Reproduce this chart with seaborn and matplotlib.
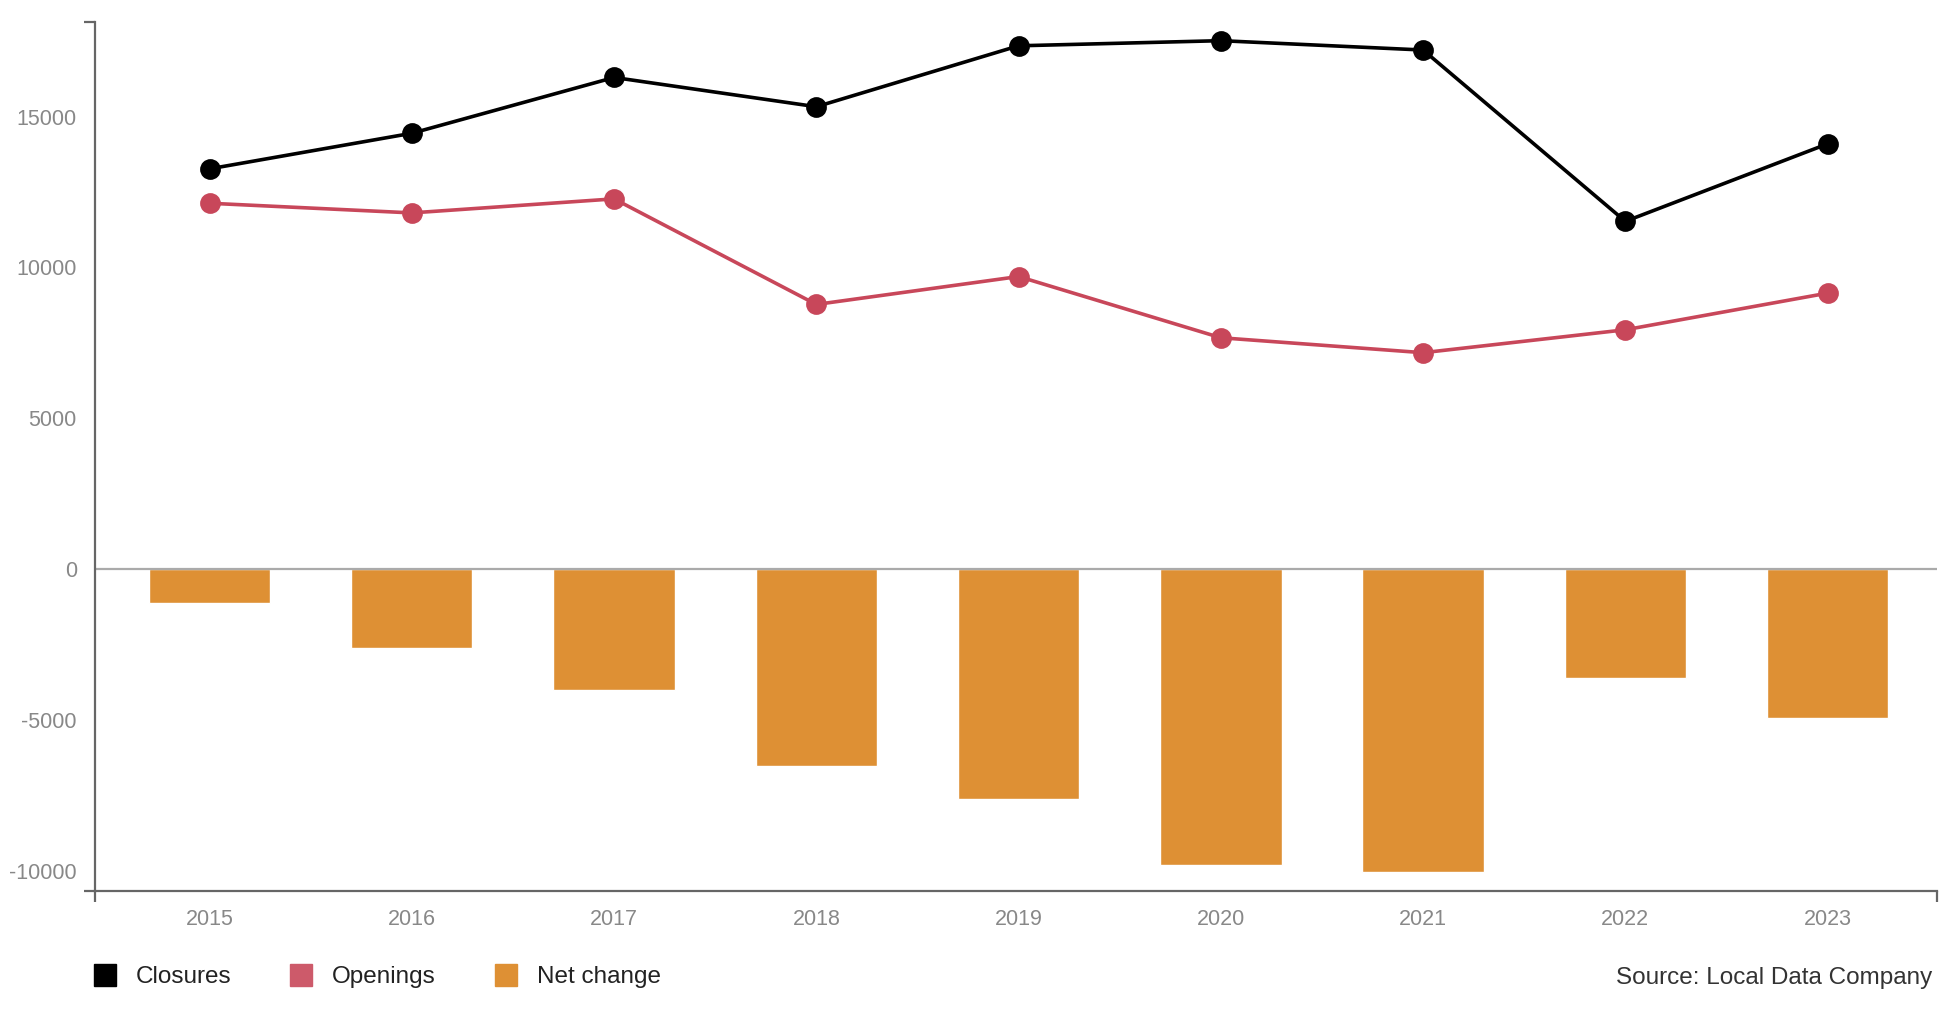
import matplotlib
matplotlib.use("Agg")
import matplotlib.pyplot as plt
from matplotlib.lines import Line2D
import seaborn as sns
import pandas as pd
import numpy as np

# ---- data ----
years = ["2015", "2016", "2017", "2018", "2019", "2020", "2021", "2022", "2023"]
closures = [13270, 14450, 16300, 15330, 17350, 17520, 17210, 11530, 14100]
openings = [12130, 11810, 12275, 8775, 9700, 7670, 7175, 7935, 9150]
net_change = [-1120, -2620, -4010, -6525, -7610, -9825, -10035, -3600, -4925]
series_labels = ["Closures", "Openings", "Net change"]
yticks = [-10000, -5000, 0, 5000, 10000, 15000]
source_text = "Source: Local Data Company"

df = pd.DataFrame({"year": years, "Closures": closures,
                   "Openings": openings, "Net change": net_change})

c_close = "#000000"
c_open = "#c8475a"
c_open_sw = "#cd5a6a"
c_net = "#de9034"

sns.set_theme(style="white")
plt.rcParams["font.family"] = ["Liberation Sans", "DejaVu Sans"]

fig = plt.figure(figsize=(19.56, 10.32), dpi=100)
ax = fig.add_axes([0.0485, 0.137, 0.9417, 0.842])

sns.barplot(data=df, x="year", y="Net change", order=years, color=c_net,
            width=0.6, saturation=1, ax=ax, zorder=1)
ax.axhline(0, color="#aaaaaa", lw=1.6, zorder=2)
sns.pointplot(data=df, x="year", y="Openings", order=years, color=c_open,
              markers="o", markersize=13, linewidth=2.6, ax=ax, zorder=3)
sns.pointplot(data=df, x="year", y="Closures", order=years, color=c_close,
              markers="o", markersize=13, linewidth=2.6, ax=ax, zorder=4)

ymin, ymax = -10660, 18150
xmin, xmax = -0.567, 8.54
ax.set_ylim(ymin, ymax)
ax.set_xlim(xmin, xmax)
ax.set_yticks(yticks)
ax.set_yticklabels([str(v) for v in yticks])
ax.set_xlabel("")
ax.set_ylabel("")

for s in ["top", "right"]:
    ax.spines[s].set_visible(False)
for s in ["left", "bottom"]:
    ax.spines[s].set_color("#666666")
    ax.spines[s].set_linewidth(1.6)

ax.tick_params(axis="both", which="major", length=0, labelsize=15.5,
               labelcolor="#888888")
ax.tick_params(axis="y", which="major", pad=13)
ax.tick_params(axis="x", which="major", pad=13)
# outer domain ticks at axis ends
ax.set_yticks([ymin, ymax], minor=True)
ax.set_xticks([xmin, xmax], minor=True)
ax.tick_params(which="minor", length=8, width=1.6, color="#666666",
               left=True, bottom=True)
ax.yaxis.set_minor_formatter(matplotlib.ticker.NullFormatter())
ax.xaxis.set_minor_formatter(matplotlib.ticker.NullFormatter())

handles = [Line2D([], [], marker="s", linestyle="none", markersize=16,
                  markerfacecolor=c, markeredgecolor=c)
           for c in [c_close, c_open_sw, c_net]]
fig.legend(handles, series_labels, loc="center left",
           bbox_to_anchor=(0.0432, 0.053), ncol=3, frameon=False,
           fontsize=17.5, handlelength=0.85, handletextpad=0.85,
           columnspacing=2.46, borderaxespad=0, labelcolor="#222222")

fig.text(0.988, 0.052, source_text, ha="right", va="center",
         fontsize=17.5, color="#333333")

fig.savefig("out.png", dpi=100)
